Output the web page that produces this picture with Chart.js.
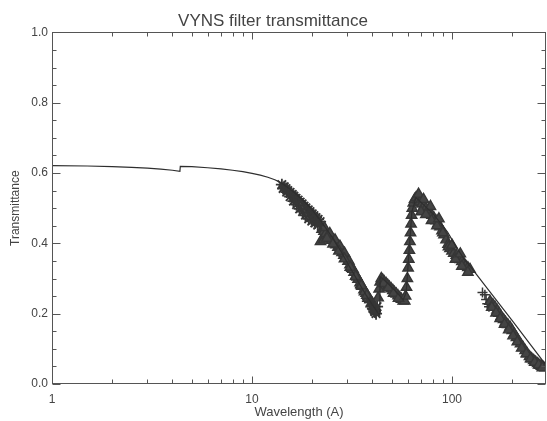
<!DOCTYPE html>
<html>
<head>
<meta charset="utf-8">
<script src="https://cdn.jsdelivr.net/npm/chart.js@4.4.1/dist/chart.umd.min.js"></script>
<style>
  html,body{margin:0;padding:0;background:#fff;}
  #wrap{width:547px;height:421px;position:relative;}
</style>
</head>
<body>
<div id="wrap"><canvas id="c" width="547" height="421"></canvas></div>
<script>
// ---- Data ----
const titleText = "VYNS filter transmittance";
const xTitle = "Wavelength (A)";
const yTitle = "Transmittance";

const xMajorTicks = [1, 10, 100];
const xMinorTicks = [2,3,4,5,6,7,8,9,20,30,40,50,60,70,80,90,200];
const yMajorTicks = [0, 0.2, 0.4, 0.6, 0.8, 1.0];
const yMinorTicks = [0.05,0.1,0.15,0.25,0.3,0.35,0.45,0.5,0.55,0.65,0.7,0.75,0.85,0.9,0.95];

// model curve (solid line)
const modelWl = [1,1.5,2,2.5,3,3.5,4,4.36,4.38,5,6,7,8,9,10,11,12,13,14,15,16,18,20,22,25,28,31,34,37,40,43.5,43.7,47,52,57,59,61,63,66,72,80,90,95,105,115,127,150,200,250,295];
const modelT  = [0.621,0.620,0.618,0.616,0.614,0.611,0.608,0.605,0.619,0.618,0.615,0.612,0.608,0.604,0.599,0.594,0.588,0.581,0.572,0.560,0.548,0.522,0.495,0.465,0.420,0.375,0.330,0.290,0.255,0.225,0.195,0.305,0.290,0.265,0.240,0.260,0.380,0.490,0.530,0.510,0.485,0.450,0.432,0.390,0.355,0.325,0.272,0.180,0.108,0.054];

// dotted curve
const dotWl = [17.4,18.2,19.1,19.5,20.4,21.9];
const dotT  = [0.515,0.495,0.470,0.455,0.445,0.440];

// asterisk data
const starWl = [14.1,14.5,14.8,15.1,15.5,15.9,16.2,16.6,17.0,17.4,17.8,18.2,18.6,19.1,19.5,20.0,20.4,20.9,21.4,21.9,
                14.3,14.9,15.5,16.1,16.7,17.3,17.9,18.5,19.2,19.9,20.6,21.3,
                38.9,39.8,40.7,41.2,41.7,42.2,40.2,41.0];
const starT  = [0.567,0.561,0.556,0.550,0.545,0.539,0.534,0.528,0.523,0.517,0.512,0.506,0.501,0.495,0.490,0.484,0.479,0.473,0.468,0.462,
                0.556,0.546,0.533,0.520,0.510,0.498,0.490,0.480,0.470,0.463,0.458,0.452,
                0.232,0.222,0.212,0.205,0.200,0.220,0.215,0.207];

// triangle data
const triWl = [22.0,22.8,
               22.4,22.9,23.4,24.0,24.5,25.1,25.7,26.3,26.9,27.5,28.2,28.8,29.5,30.2,30.9,31.6,32.4,33.1,33.9,34.7,35.5,36.3,37.2,38.0,38.9,39.8,40.7,
               23.0,24.5,26.0,27.5,29.0,30.5,32.0,33.5,35.0,36.5,38.0,
               23.7,25.4,27.2,29.0,31.0,33.0,35.2,37.5,39.5,
               42.7,43.2,43.7,
               44.3,45.0,45.8,46.8,47.7,48.6,49.6,50.6,51.6,52.7,53.7,54.8,55.9,57.0,58.0,
               45.5,48.0,51.0,54.0,
               58.6,59.2,59.8,60.3,60.8,61.2,61.6,62.0,62.4,62.8,63.3,64.0,65.0,66.1,
               67.6,69.2,70.8,72.4,74.1,75.9,77.6,79.4,81.3,83.2,85.1,87.1,89.1,91.2,93.3,95.5,97.7,100,102,105,107,110,112,115,117,120,123,
               70,74,79,84,90,96,104,112,120,
               68,72,78,86,100,110,
               155,160,164,168,172,176,181,185,190,195,200,205,210,215,220,226,232,238,244,250,256,262,268,275,280,285,292,
               158,166,174,183,192,202,212,223,235,247,259,271,283];
const triT  = [0.405,0.410,
               0.440,0.434,0.428,0.422,0.416,0.409,0.402,0.396,0.389,0.382,0.374,0.366,0.358,0.349,0.339,0.329,0.318,0.308,0.298,0.288,0.278,0.268,0.258,0.249,0.240,0.231,0.222,
               0.445,0.428,0.410,0.392,0.372,0.350,0.326,0.304,0.283,0.262,0.244,
               0.415,0.398,0.378,0.356,0.332,0.306,0.280,0.252,0.228,
               0.245,0.270,0.290,
               0.300,0.296,0.291,0.286,0.281,0.276,0.271,0.266,0.261,0.256,0.251,0.246,0.241,0.236,0.236,
               0.286,0.274,0.258,0.244,
               0.250,0.275,0.300,0.330,0.355,0.380,0.405,0.430,0.455,0.480,0.500,0.515,0.525,0.530,
               0.524,0.518,0.512,0.506,0.500,0.494,0.487,0.480,0.472,0.464,0.456,0.447,0.436,0.424,0.410,0.397,0.385,0.378,0.372,0.366,0.360,0.354,0.348,0.342,0.336,0.331,0.326,
               0.490,0.482,0.465,0.450,0.430,0.390,0.355,0.335,0.318,
               0.540,0.525,0.505,0.470,0.395,0.370,
               0.235,0.226,0.219,0.210,0.201,0.192,0.183,0.176,0.169,0.162,0.152,0.142,0.132,0.123,0.114,0.105,0.095,0.086,0.078,0.072,0.067,0.062,0.058,0.053,0.050,0.048,0.046,
               0.218,0.202,0.186,0.170,0.154,0.137,0.120,0.102,0.086,0.072,0.062,0.054,0.046];

// plus data
const plusWl = [142,146,148,150,153];
const plusT  = [0.260,0.254,0.240,0.228,0.220];

// ---- build ----
const pts = (xs, ys) => xs.map((v, i) => ({x: v, y: ys[i]}));
const ink = '#363636';
const axisCol = '#555';
const textCol = '#444';
const fontFam = '"Liberation Sans", Arial, sans-serif';

const inTicks = {
  id: 'inTicks',
  afterDraw(chart) {
    const {ctx, chartArea: a, scales: {x, y}} = chart;
    ctx.save();
    ctx.strokeStyle = axisCol;
    ctx.lineWidth = 1;
    const L = (x1, y1, x2, y2) => { ctx.beginPath(); ctx.moveTo(x1, y1); ctx.lineTo(x2, y2); ctx.stroke(); };
    const l = Math.round(a.left) + 0.5, r = Math.round(a.right) - 0.5;
    const t = Math.round(a.top) + 0.5, b = Math.round(a.bottom) - 0.5;
    ctx.strokeRect(l, t, r - l, b - t);
    x.ticks.forEach(tk => {
      const px = Math.round(x.getPixelForValue(tk.value)) + 0.5;
      const len = xMajorTicks.includes(tk.value) ? 7 : 4;
      L(px, b, px, b - len);
      L(px, t, px, t + len);
    });
    y.ticks.forEach(tk => {
      const py = Math.round(y.getPixelForValue(tk.value)) + 0.5;
      const len = yMajorTicks.some(v => Math.abs(v - tk.value) < 1e-6) ? 8 : 4;
      L(l, py, l + len, py);
      L(r, py, r - len, py);
    });
    ctx.restore();
  }
};

new Chart(document.getElementById('c'), {
  type: 'scatter',
  data: {
    datasets: [
      {label: 'model', data: pts(modelWl, modelT), showLine: true, borderColor: '#2e2e2e', borderWidth: 1.2, pointRadius: 0, tension: 0, order: 1},
      {label: 'dotted', data: pts(dotWl, dotT), showLine: true, borderColor: '#444', borderWidth: 1, borderDash: [2, 2], pointRadius: 0, order: 1},
      {label: 'stars', data: pts(starWl, starT), showLine: false, pointStyle: 'star', pointRadius: 6, borderColor: ink, borderWidth: 1.8, backgroundColor: ink, order: 2},
      {label: 'triangles', data: pts(triWl, triT), showLine: false, pointStyle: 'triangle', pointRadius: 6, borderColor: ink, borderWidth: 1.4, backgroundColor: '#444', order: 2},
      {label: 'plus', data: pts(plusWl, plusT), showLine: false, pointStyle: 'cross', pointRadius: 5, borderColor: ink, borderWidth: 1.5, order: 2}
    ]
  },
  options: {
    responsive: false,
    animation: false,
    devicePixelRatio: 1,
    layout: {autoPadding: false, padding: {left: 0, right: 1, top: 0, bottom: 0}},
    plugins: {
      legend: {display: false},
      tooltip: {enabled: false},
      title: {display: true, text: titleText, color: textCol, font: {family: fontFam, size: 17, weight: 'normal'}, padding: {top: 11, bottom: 1}}
    },
    scales: {
      x: {
        type: 'logarithmic', min: 1, max: 295,
        afterBuildTicks: s => { s.ticks = xMajorTicks.concat(xMinorTicks).sort((a, b) => a - b).map(v => ({value: v, major: xMajorTicks.includes(v)})); },
        afterFit: s => { s.height = 37; },
        grid: {display: false, drawTicks: false},
        border: {display: false},
        ticks: {autoSkip: false, maxRotation: 0, padding: 8, color: textCol, font: {family: fontFam, size: 12},
                callback: v => xMajorTicks.includes(v) ? String(v) : ''},
        title: {display: true, text: xTitle, color: textCol, font: {family: fontFam, size: 13}, padding: {top: 0, bottom: 1}}
      },
      y: {
        min: 0, max: 1,
        afterBuildTicks: s => { s.ticks = yMajorTicks.concat(yMinorTicks).sort((a, b) => a - b).map(v => ({value: v})); },
        afterFit: s => { s.width = 52; },
        grid: {display: false, drawTicks: false},
        border: {display: false},
        ticks: {autoSkip: false, padding: 4, color: textCol, font: {family: fontFam, size: 12},
                callback: v => yMajorTicks.some(m => Math.abs(m - v) < 1e-6) ? v.toFixed(1) : ''},
        title: {display: true, text: yTitle, color: textCol, font: {family: fontFam, size: 12}, padding: {top: 8, bottom: 0}}
      }
    }
  },
  plugins: [inTicks]
});
</script>
</body>
</html>
